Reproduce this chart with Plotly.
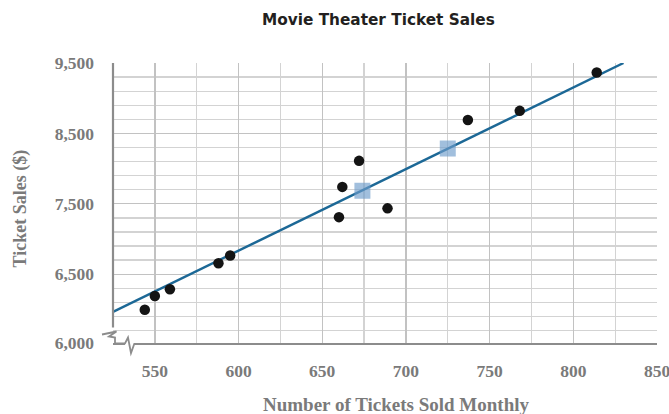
import plotly.graph_objects as go

# ---- data ----
TICKETS = [544, 550, 559, 588, 595, 660, 662, 672, 689, 737, 768, 814]
SALES = [5995, 6190, 6285, 6655, 6765, 7310, 7740, 8110, 7435, 8690, 8820, 9365]
HIGHLIGHT_X = [674, 725]
HIGHLIGHT_Y = [7685, 8285]
FIT_X = [525, 830]
FIT_Y = [5965, 9500]

X_TICK_VALS = [550, 600, 650, 700, 750, 800, 850]
X_TICK_TEXT = ["550", "600", "650", "700", "750", "800", "850"]
Y_TICK_VALS = [5522, 6500, 7500, 8500, 9500]
Y_TICK_TEXT = ["6,000", "6,500", "7,500", "8,500", "9,500"]
X_RANGE = [525, 850]
Y_RANGE = [5522, 9500]

W, H = 669, 414
ML, MR, MT, MB = 113, 12, 63, 71
PW, PH = W - ML - MR, H - MT - MB


def px(x):
    """window pixel x -> paper x"""
    return (x - ML) / PW


def py(y):
    """window pixel y -> paper y"""
    return (H - MB - y) / PH


AXIS_GREY = "#8c8c8c"
TEXT_GREY = "#7a7a7a"
SERIF = "Liberation Serif"

fig = go.Figure()

fig.add_trace(go.Scatter(
    x=FIT_X, y=FIT_Y, mode="lines",
    line=dict(color="#1c6896", width=2.4),
    hoverinfo="skip", showlegend=False, cliponaxis=False,
))
fig.add_trace(go.Scatter(
    x=HIGHLIGHT_X, y=HIGHLIGHT_Y, mode="markers",
    marker=dict(symbol="square", size=16, color="#6f9ccb", opacity=0.65,
                line=dict(width=0)),
    showlegend=False,
))
fig.add_trace(go.Scatter(
    x=TICKETS, y=SALES, mode="markers",
    marker=dict(symbol="circle", size=10.5, color="#141414", line=dict(width=0)),
    showlegend=False, cliponaxis=False,
))

fig.update_xaxes(
    range=X_RANGE, tickvals=X_TICK_VALS, ticktext=X_TICK_TEXT,
    showgrid=True, gridcolor="#c2c2c2", gridwidth=1.3,
    minor=dict(tick0=525, dtick=25, showgrid=True, gridcolor="#d3d3d3", gridwidth=1.3),
    showline=True, linecolor=AXIS_GREY, linewidth=2,
    zeroline=False, ticks="", ticklabelstandoff=11, automargin=False,
    ticklabeloverflow="allow",
    tickfont=dict(family=SERIF, size=17.5, color=TEXT_GREY, weight="bold"),
)
fig.update_yaxes(
    range=Y_RANGE, tickvals=Y_TICK_VALS, ticktext=Y_TICK_TEXT,
    showgrid=True, gridcolor="#c2c2c2", gridwidth=1.3,
    minor=dict(tick0=9500, dtick=200, showgrid=True, gridcolor="#d3d3d3", gridwidth=1.3),
    showline=False, zeroline=False, ticks="", ticklabelstandoff=18, automargin=False,
    ticklabeloverflow="allow",
    tickfont=dict(family=SERIF, size=17.5, color=TEXT_GREY, weight="bold"),
)

shapes = [
    # y axis line (stops above the break)
    dict(type="line", xref="paper", yref="paper",
         x0=0, x1=0, y0=py(327.5), y1=1.0,
         line=dict(color=AXIS_GREY, width=2.2)),
    # white gap in x axis for its break
    dict(type="line", xref="paper", yref="paper",
         x0=px(125), x1=px(134), y0=0, y1=0,
         line=dict(color="white", width=4)),
    # axis break zigzags
    dict(type="path", xref="paper", yref="paper",
         path=(f"M {px(102)},{py(334.5)} L {px(116.5)},{py(331.5)} "
               f"L {px(109)},{py(336.5)} L {px(115)},{py(337.5)} L {px(115)},{py(343.3)} "
               f"L {px(125)},{py(343.3)} L {px(128)},{py(337.5)} L {px(131)},{py(353)} "
               f"L {px(134.5)},{py(343.3)}"),
         line=dict(color=AXIS_GREY, width=1.8)),
]

annotations = [
    dict(text="<b>Movie Theater Ticket Sales</b>", xref="paper", yref="paper",
         x=px(378), y=py(19.5), showarrow=False, xanchor="center", yanchor="middle",
         font=dict(family="DejaVu Sans", size=15.3, color="#231f20")),
    dict(text="<b>Number of Tickets Sold Monthly</b>", xref="paper", yref="paper",
         x=px(396.5), y=py(404.5), showarrow=False, xanchor="center", yanchor="middle",
         font=dict(family=SERIF, size=19, color=TEXT_GREY)),
    dict(text="<b>Ticket Sales ($)</b>", xref="paper", yref="paper",
         x=px(20), y=py(208.5), showarrow=False, xanchor="center", yanchor="middle",
         textangle=-90, font=dict(family=SERIF, size=18, color=TEXT_GREY)),
]

fig.update_layout(
    width=W, height=H,
    margin=dict(l=ML, r=MR, t=MT, b=MB, pad=0, autoexpand=False),
    plot_bgcolor="white", paper_bgcolor="white",
    shapes=shapes, annotations=annotations,
    showlegend=False, hovermode=False,
)

# let the figure fill the 669x414 window exactly (no default page margin)
fig.write_html(
    "out.html",
    config={"displayModeBar": False, "staticPlot": True},
    post_script="document.body.style.margin='0';",
)
